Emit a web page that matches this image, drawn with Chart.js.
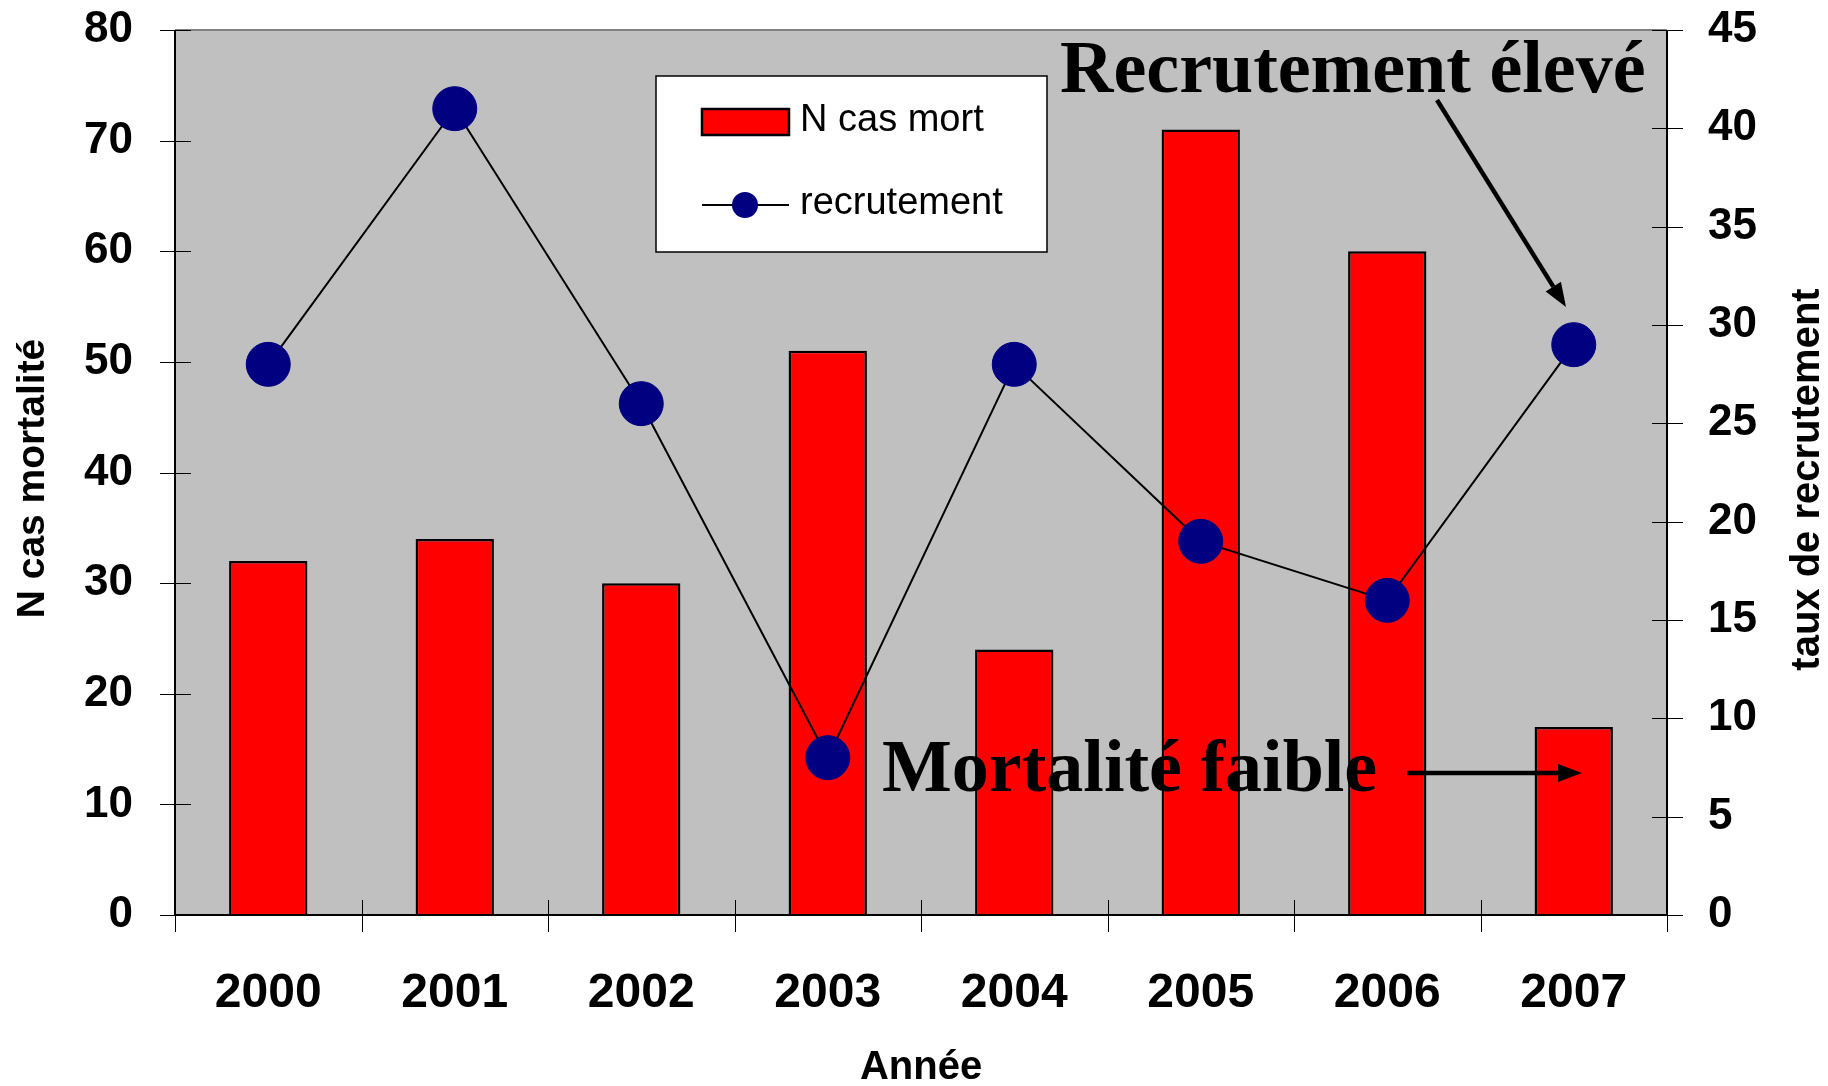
<!DOCTYPE html>
<html>
<head>
<meta charset="utf-8">
<script src="https://cdn.jsdelivr.net/npm/chart.js@4"></script>
<style>
    html, body { margin: 0; padding: 0; background: #fff; }
</style>
</head>
<body>
<canvas id="chart" width="1828" height="1086"></canvas>
<script>
// données
const years = ['2000', '2001', '2002', '2003', '2004', '2005', '2006', '2007'];
const nCasMort = [32, 34, 30, 51, 24, 71, 60, 17];
const recrutement = [28, 41, 26, 8, 28, 19, 16, 29];
const leftMax = 80, leftStep = 10;
const rightMax = 45, rightStep = 5;

// fond gris, axes, graduations croisées, titres, légende, annotations
const decor = {
    id: 'decor',
    beforeDatasetsDraw(chart) {
        const { ctx, chartArea: a } = chart;
        ctx.save();
        ctx.fillStyle = '#C0C0C0';
        ctx.fillRect(a.left, a.top, a.right - a.left, a.bottom - a.top);
        ctx.restore();
    },
    afterDatasetsDraw(chart) {
        const { ctx, chartArea: a, scales } = chart;
        ctx.save();

        // cadre
        ctx.strokeStyle = '#808080';
        ctx.lineWidth = 2;
        ctx.beginPath();
        ctx.moveTo(a.left, a.top); ctx.lineTo(a.right, a.top);
        ctx.stroke();
        ctx.strokeStyle = '#000';
        ctx.lineWidth = 2;
        ctx.beginPath();
        ctx.moveTo(a.left, a.top); ctx.lineTo(a.left, a.bottom);
        ctx.lineTo(a.right, a.bottom); ctx.lineTo(a.right, a.top);
        ctx.stroke();

        // graduations
        ctx.lineWidth = 1;
        ctx.beginPath();
        scales.y.ticks.forEach(t => {
            const py = Math.round(scales.y.getPixelForValue(t.value)) + 0.5;
            ctx.moveTo(a.left - 15, py); ctx.lineTo(a.left + 16, py);
        });
        scales.y1.ticks.forEach(t => {
            const py = Math.round(scales.y1.getPixelForValue(t.value)) + 0.5;
            ctx.moveTo(a.right - 15, py); ctx.lineTo(a.right + 16, py);
        });
        const half = (scales.x.getPixelForValue(1) - scales.x.getPixelForValue(0)) / 2;
        for (let i = 0; i <= years.length; i++) {
            const px = Math.round(scales.x.getPixelForValue(i) - half) + 0.5;
            ctx.moveTo(px, a.bottom - 15); ctx.lineTo(px, a.bottom + 17);
        }
        ctx.stroke();

        // titres des axes
        ctx.fillStyle = '#000';
        ctx.font = 'bold 39px "Liberation Sans", Arial, sans-serif';
        ctx.textAlign = 'center';
        ctx.textBaseline = 'middle';
        ctx.save();
        ctx.translate(33, (a.top + a.bottom) / 2 + 6);
        ctx.rotate(-Math.PI / 2);
        ctx.fillText('N cas mortalité', 0, 0);
        ctx.restore();
        ctx.font = 'bold 40px "Liberation Sans", Arial, sans-serif';
        ctx.save();
        ctx.translate(1808, (a.top + a.bottom) / 2 + 7);
        ctx.rotate(-Math.PI / 2);
        ctx.fillText('taux de recrutement', 0, 0);
        ctx.restore();
        ctx.fillText('Année', (a.left + a.right) / 2, 1068);

        // légende
        ctx.fillStyle = '#fff';
        ctx.fillRect(656, 76, 391, 176);
        ctx.strokeStyle = '#000';
        ctx.lineWidth = 1.5;
        ctx.strokeRect(656, 76, 391, 176);
        ctx.fillStyle = '#FF0000';
        ctx.fillRect(702, 109, 87, 26);
        ctx.lineWidth = 2.5;
        ctx.strokeRect(702, 109, 87, 26);
        ctx.beginPath();
        ctx.moveTo(702, 205); ctx.lineTo(789, 205);
        ctx.lineWidth = 2;
        ctx.stroke();
        ctx.fillStyle = '#000080';
        ctx.beginPath();
        ctx.arc(745, 205, 13, 0, Math.PI * 2);
        ctx.fill();
        ctx.fillStyle = '#000';
        ctx.font = '38px "Liberation Sans", Arial, sans-serif';
        ctx.textAlign = 'left';
        ctx.textBaseline = 'alphabetic';
        ctx.fillText('N cas mort', 800, 131);
        ctx.fillText('recrutement', 800, 214);

        // annotations
        ctx.font = 'bold 74px "Liberation Serif", "Times New Roman", serif';
        ctx.fillText('Recrutement élevé', 1060, 92);
        ctx.fillText('Mortalité faible', 882, 791);
        arrow(ctx, 1437, 100, 1566, 307);
        arrow(ctx, 1407, 773, 1582, 773);

        ctx.restore();
    }
};

function arrow(ctx, x1, y1, x2, y2) {
    const ang = Math.atan2(y2 - y1, x2 - x1);
    const len = 24, w = 9;
    const bx = x2 - len * Math.cos(ang), by = y2 - len * Math.sin(ang);
    ctx.strokeStyle = '#000';
    ctx.lineWidth = 4.5;
    ctx.beginPath();
    ctx.moveTo(x1, y1); ctx.lineTo(bx, by);
    ctx.stroke();
    ctx.fillStyle = '#000';
    ctx.beginPath();
    ctx.moveTo(x2, y2);
    ctx.lineTo(bx + w * Math.sin(ang), by - w * Math.cos(ang));
    ctx.lineTo(bx - w * Math.sin(ang), by + w * Math.cos(ang));
    ctx.closePath();
    ctx.fill();
}

const noPad = s => {
    s.paddingTop = 0; s.paddingBottom = 0;
    s.paddingLeft = 0; s.paddingRight = 0;
};

new Chart(document.getElementById('chart'), {
    type: 'bar',
    data: {
        labels: years,
        datasets: [
            {
                type: 'line',
                label: 'recrutement',
                data: recrutement,
                yAxisID: 'y1',
                borderColor: '#000',
                borderWidth: 2,
                pointRadius: 22,
                pointBackgroundColor: '#000080',
                pointBorderColor: '#000080',
                pointBorderWidth: 1,
                tension: 0,
                clip: false,
                order: 1
            },
            {
                label: 'N cas mort',
                data: nCasMort,
                yAxisID: 'y',
                backgroundColor: '#FF0000',
                borderColor: '#000',
                borderWidth: 2.5,
                categoryPercentage: 1,
                barPercentage: 0.42,
                order: 2
            }
        ]
    },
    options: {
        responsive: false,
        devicePixelRatio: 1,
        animation: false,
        layout: { padding: { top: 30, left: 0, right: 0, bottom: 0 } },
        plugins: { legend: { display: false }, tooltip: { enabled: false } },
        scales: {
            x: {
                grid: { display: false, drawTicks: false },
                border: { display: false },
                ticks: {
                    color: '#000',
                    padding: 50,
                    font: { family: '"Liberation Sans", Arial, sans-serif', size: 48, weight: 'bold' }
                },
                afterFit: s => { s.height = 171; noPad(s); }
            },
            y: {
                position: 'left',
                min: 0,
                max: leftMax,
                grid: { display: false, drawTicks: false },
                border: { display: false },
                ticks: {
                    stepSize: leftStep,
                    color: '#000',
                    padding: 42,
                    font: { family: '"Liberation Sans", Arial, sans-serif', size: 44, weight: 'bold' }
                },
                afterFit: s => { s.width = 175; noPad(s); }
            },
            y1: {
                position: 'right',
                min: 0,
                max: rightMax,
                grid: { display: false, drawTicks: false },
                border: { display: false },
                ticks: {
                    stepSize: rightStep,
                    color: '#000',
                    padding: 41,
                    font: { family: '"Liberation Sans", Arial, sans-serif', size: 44, weight: 'bold' }
                },
                afterFit: s => { s.width = 161; noPad(s); }
            }
        }
    },
    plugins: [decor]
});
</script>
</body>
</html>
